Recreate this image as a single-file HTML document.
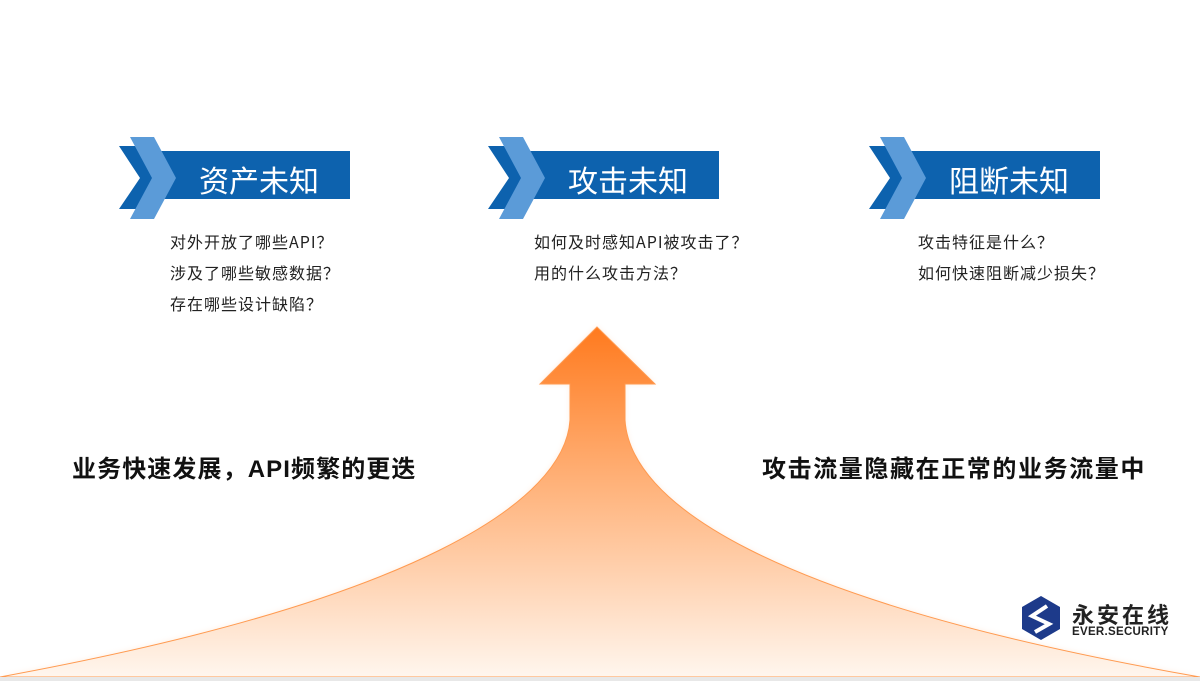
<!DOCTYPE html>
<html><head><meta charset="utf-8"><style>
html,body{margin:0;padding:0;background:#fff;}
body{width:1200px;height:681px;position:relative;overflow:hidden;font-family:"Liberation Sans","Noto Sans CJK SC",sans-serif;}
.t{position:absolute;color:#222;}
.q{font-size:16px;line-height:31px;color:#222;letter-spacing:1px;font-family:"Noto Sans CJK SC","Liberation Sans",sans-serif;}
.h{font-size:24px;font-weight:bold;color:#111;letter-spacing:0.6px;}
.b{position:absolute;color:#fff;font-size:30px;}
</style></head><body>
<svg width="1200" height="681" style="position:absolute;left:0;top:0">
<defs>
<linearGradient id="g" x1="0" y1="0" x2="0" y2="1">
<stop offset="0" stop-color="#ff7a1e"/>
<stop offset="0.45" stop-color="#ffb27a"/>
<stop offset="1" stop-color="#fff6ee"/>
</linearGradient>
<filter id="f" x="-10%" y="-10%" width="120%" height="120%"><feGaussianBlur stdDeviation="3"/></filter>
<g id="ban">
<rect x="160" y="151" width="190" height="48" fill="#0d62ae"/>
<polygon points="119,146 141,146 162,178 141,209 119,209 140,178" fill="#0d62ae"/>
<polygon points="130,137 154,137 176,178 154,219 130,219 152,178" fill="#5b9bd8"/>
</g>
</defs>
<use href="#ban"/>
<use href="#ban" x="369"/>
<use href="#ban" x="750"/>
<path d="M597,327 L655,384 L625,384 L625,420 C630,500 760,600 1200,677 L0,677 C420,600 565,500 570,420 L570,384 L540,384 Z" fill="#ffc9a0" opacity="0.35" filter="url(#f)"/>
<path d="M597,327 L655,384 L625,384 L625,420 C630,500 760,600 1200,677 L0,677 C420,600 565,500 570,420 L570,384 L540,384 Z" fill="url(#g)" stroke="#ff9a50" stroke-width="1"/>
<rect x="0" y="677" width="1200" height="4" fill="#e8e8e8"/>
<g transform="translate(1041,618)">
<polygon points="0,-22 19,-11 19,11 0,22 -19,11 -19,-11" fill="#1d3a8a"/>
<path d="M6,-12 L-9,-2 L8,6 L-6,14" stroke="#fff" stroke-width="4" fill="none"/>
</g>
</svg>
<div class="b" style="left:199px;top:157px">资产未知</div>
<div class="b" style="left:568px;top:157px">攻击未知</div>
<div class="b" style="left:949px;top:157px">阻断未知</div>
<div class="t q" style="left:170px;top:226px">对外开放了哪些API？<br>涉及了哪些敏感数据？<br>存在哪些设计缺陷？</div>
<div class="t q" style="left:534px;top:226px">如何及时感知API被攻击了？<br>用的什么攻击方法？</div>
<div class="t q" style="left:918px;top:226px">攻击特征是什么？<br>如何快速阻断减少损失？</div>
<div class="t h" style="left:72px;top:449px;letter-spacing:1.1px">业务快速发展，API频繁的更迭</div>
<div class="t h" style="left:762px;top:449px;letter-spacing:1.6px">攻击流量隐藏在正常的业务流量中</div>
<div class="t" style="left:1072px;top:598px;font-size:22px;font-weight:bold;color:#222;letter-spacing:3px">永安在线</div>
<div class="t" style="left:1072px;top:626px;font-size:11.5px;font-weight:bold;color:#222;letter-spacing:0.3px">EVER.SECURITY</div>
</body></html>
